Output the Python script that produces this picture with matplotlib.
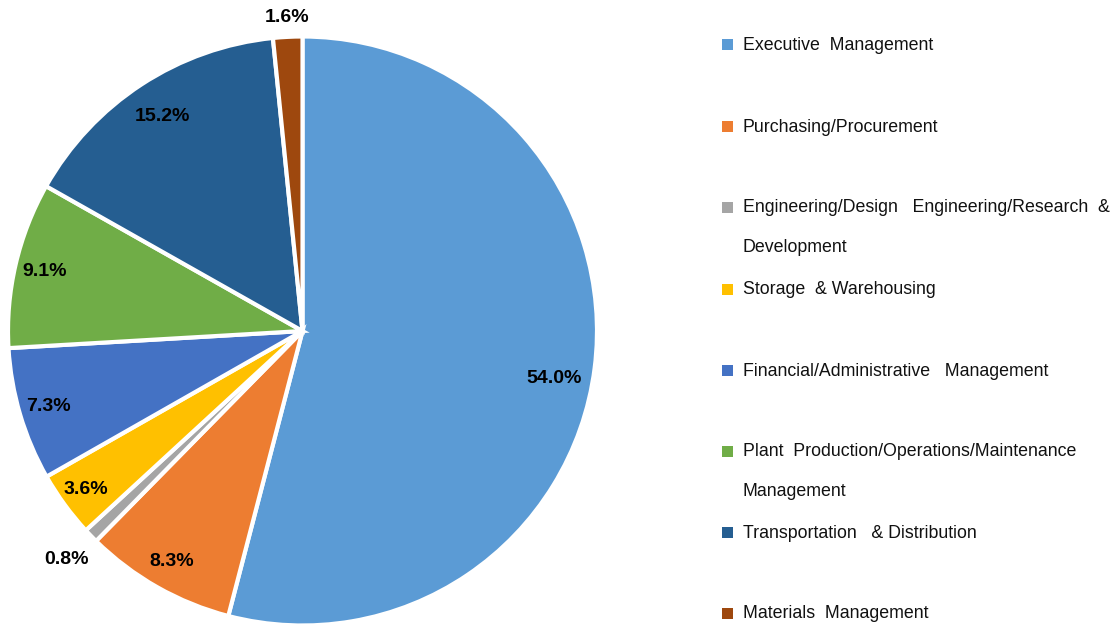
import numpy as np
import matplotlib.pyplot as plt
from matplotlib.patches import Rectangle

plt.rcParams.update({'font.family': ['Liberation Sans', 'DejaVu Sans']})

#==============================================================================
# DATA
#==============================================================================
legend_lines = [['Executive  Management'],
                ['Purchasing/Procurement'],
                ['Engineering/Design   Engineering/Research  &', 'Development'],
                ['Storage  & Warehousing'],
                ['Financial/Administrative   Management'],
                ['Plant  Production/Operations/Maintenance', 'Management'],
                ['Transportation   & Distribution'],
                ['Materials  Management']]
shares = [54.0, 8.3, 0.8, 3.6, 7.3, 9.1, 15.2, 1.6]
colors = ['#5B9BD5', '#ED7D31', '#A5A5A5', '#FFC000',
          '#4472C4', '#70AD47', '#255E91', '#9E480E']
label_dist = [0.87, 0.90, 1.115, 0.91, 0.90, 0.90, 0.87, 1.066]
label_shift = [-3.5, 0, 0, 0, 0, 0, 0, 0]        # deg, nudge off the wedge middle

#==============================================================================
# PLOT
#==============================================================================
W, H = 1120, 629
fig = plt.figure(figsize=(W/100, H/100), dpi=100)
cx, cy, r = 302.5, 331, 294.5
ax = fig.add_axes([(cx - r)/W, (H - cy - r)/H, 2*r/W, 2*r/H])

wedges, _ = ax.pie(shares, colors=colors, startangle=90, counterclock=False,
                   radius=1.0, wedgeprops=dict(edgecolor='white', linewidth=3))
ax.set_xlim(-1, 1)
ax.set_ylim(-1, 1)
ax.set_aspect('equal')
ax.axis('off')

for w, v, d, s in zip(wedges, shares, label_dist, label_shift):
    ang = np.deg2rad((w.theta1 + w.theta2) / 2 + s)
    ax.text(d*np.cos(ang), d*np.sin(ang), '{:.1f}%'.format(v),
            ha='center', va='center', fontsize=14, fontweight='bold',
            color='black')

# legend drawn by hand to keep the uneven spacing of the original
leg_y = [45, 127, 208, 290, 371, 452, 533, 614]
for col, lines, y in zip(colors, legend_lines, leg_y):
    fig.patches.append(Rectangle((722/W, 1 - (y + 5)/H), 11/W, 11/H,
                                 transform=fig.transFigure, facecolor=col,
                                 edgecolor='none'))
    for k, t in enumerate(lines):
        fig.text(743/W, 1 - (y + k*39)/H, t, ha='left', va='center',
                 fontsize=12.8, color='#111111')

fig.savefig('out.png', dpi=100)
